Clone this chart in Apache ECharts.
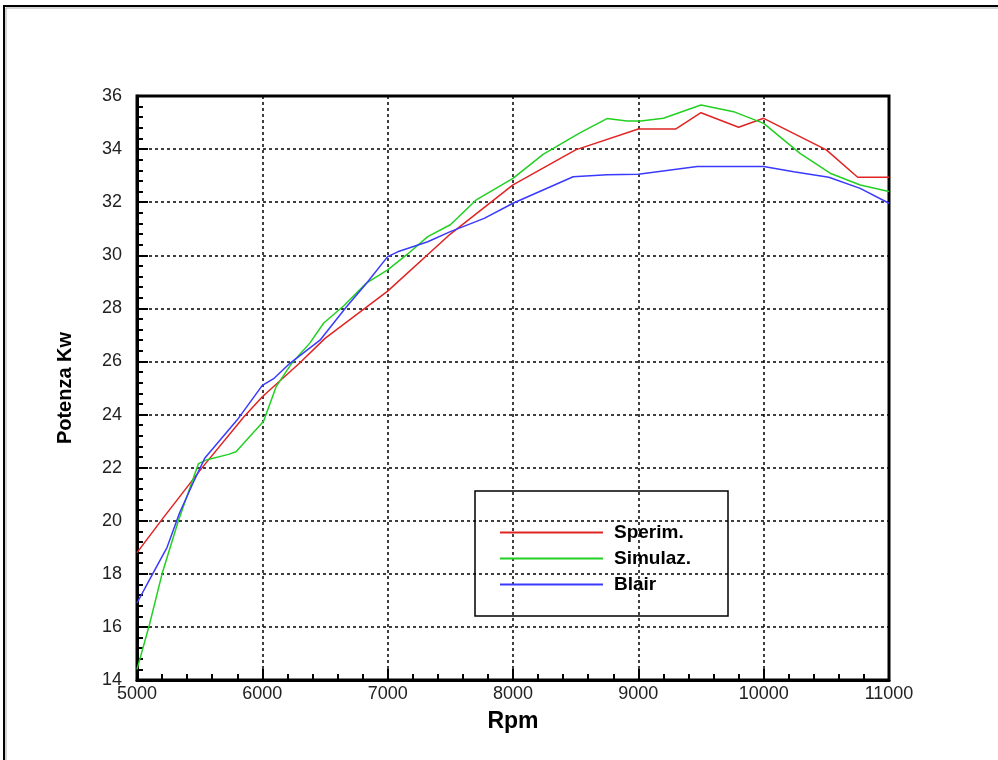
<!DOCTYPE html>
<html>
<head>
<meta charset="utf-8">
<script src="https://cdn.jsdelivr.net/npm/echarts@6/dist/echarts.min.js"></script>
<style>
html,body{margin:0;padding:0;background:#fff;}
#chart{width:998px;height:760px;}
</style>
</head>
<body>
<div id="chart"></div>
<script>
// Data: [rpm, kW]
const sperim = [[5000,18.8],[5200,20.05],[5520,22.0],[5850,23.9],[6000,24.67],[6300,25.95],[6500,26.87],[7000,28.65],[7500,30.8],[8000,32.65],[8500,33.97],[9000,34.76],[9300,34.76],[9500,35.37],[9800,34.82],[10000,35.16],[10500,33.97],[10750,32.94],[11000,32.94]];
const simulaz = [[5000,14.4],[5100,16.1],[5200,18.0],[5330,20.0],[5490,22.15],[5560,22.3],[5730,22.5],[5790,22.6],[6010,23.75],[6110,25.05],[6230,25.9],[6380,26.7],[6490,27.45],[6650,28.1],[6830,28.95],[7000,29.45],[7160,30.05],[7320,30.7],[7500,31.15],[7710,32.1],[8000,32.9],[8240,33.8],[8530,34.6],[8750,35.15],[8910,35.06],[9020,35.06],[9200,35.16],[9500,35.66],[9760,35.41],[10000,34.97],[10290,33.84],[10530,33.09],[10770,32.65],[11000,32.4]];
const blair = [[5000,16.9],[5125,18.0],[5240,19.0],[5340,20.3],[5450,21.45],[5540,22.35],[5800,23.8],[6000,25.1],[6090,25.35],[6220,25.93],[6460,26.8],[6670,28.05],[6830,28.94],[7000,29.95],[7080,30.13],[7320,30.51],[7500,30.89],[7770,31.39],[8000,31.96],[8480,32.96],[8750,33.03],[9000,33.05],[9470,33.34],[10000,33.34],[10240,33.15],[10520,32.94],[10770,32.52],[11000,31.96]];
const seriesNames = ['Sperim.','Simulaz.','Blair'];
const xTitle = 'Rpm';
const yTitle = 'Potenza Kw';

const chart = echarts.init(document.getElementById('chart'), null, {renderer:'canvas'});
const FONT = 'Liberation Sans, Arial, sans-serif';
const gridLine = {show:true, lineStyle:{color:'#000', width:1.5, type:[3,3]}};
function mkSeries(name, data, color){
  return {name:name, type:'line', data:data, symbol:'none', smooth:false,
    lineStyle:{color:color, width:1.5}, itemStyle:{color:color}, z:3, animation:false};
}
chart.setOption({
  animation:false,
  backgroundColor:'#fff',
  grid:{left:137, top:96, width:752, height:584, show:true, borderColor:'#000', borderWidth:3, backgroundColor:'transparent'},
  xAxis:{type:'value', min:5000, max:11000, interval:1000,
    name:xTitle, nameLocation:'middle', nameGap:30,
    nameTextStyle:{fontFamily:FONT, fontSize:23, fontWeight:'bold', color:'#000'},
    axisLine:{show:true, lineStyle:{color:'#000', width:3}},
    axisTick:{show:true, inside:true, length:11, lineStyle:{color:'#000', width:2}},
    minorTick:{show:true, splitNumber:5, length:6, lineStyle:{color:'#000', width:2}},
    axisLabel:{fontFamily:FONT, fontSize:18, color:'#222', margin:5, formatter:function(v){return String(v);}},
    splitLine:gridLine},
  yAxis:{type:'value', min:14, max:36, interval:2,
    name:yTitle, nameLocation:'middle', nameGap:62, nameRotate:90,
    nameTextStyle:{fontFamily:FONT, fontSize:20, fontWeight:'bold', color:'#000'},
    axisLine:{show:true, lineStyle:{color:'#000', width:3}},
    axisTick:{show:true, inside:true, length:11, lineStyle:{color:'#000', width:2}},
    minorTick:{show:true, splitNumber:5, length:6, lineStyle:{color:'#000', width:2}},
    axisLabel:{fontFamily:FONT, fontSize:18, color:'#222', margin:15},
    splitLine:gridLine},
  legend:{show:true, orient:'vertical', left:495, top:518, itemWidth:103, itemHeight:2,
    itemGap:7, icon:'rect',
    textStyle:{fontFamily:FONT, fontSize:19, fontWeight:'bold', color:'#000', padding:[0,0,0,6]},
    data:seriesNames},
  series:[
    mkSeries(seriesNames[0], sperim, '#e02424'),
    mkSeries(seriesNames[1], simulaz, '#22d022'),
    mkSeries(seriesNames[2], blair, '#3a3aff')
  ],
  graphic:[
    {type:'rect', shape:{x:475, y:491, width:253, height:125}, style:{fill:'none', stroke:'#000', lineWidth:1.5}, z:10},
    {type:'polyline', shape:{points:[[4,760],[4,6],[998,6]]}, style:{stroke:'#000', lineWidth:2, fill:'none'}, z:10},
    {type:'polyline', shape:{points:[[6,760],[6,8],[998,8]]}, style:{stroke:'#aaa', lineWidth:1, fill:'none'}, z:10}
  ]
});
</script>
</body>
</html>
